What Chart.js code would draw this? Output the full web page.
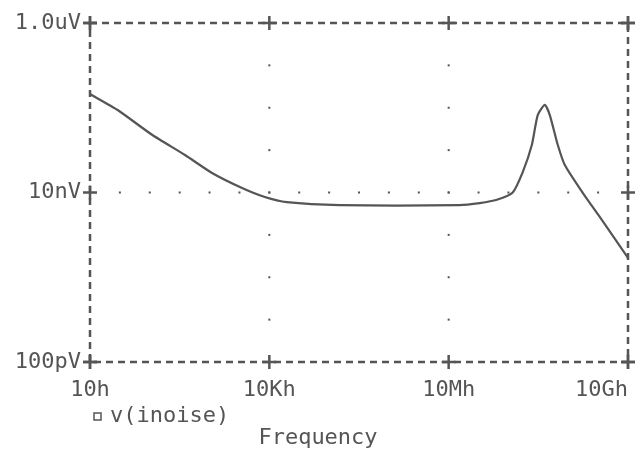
<!DOCTYPE html>
<html>
<head>
<meta charset="utf-8">
<title>v(inoise)</title>
<script src="https://cdn.jsdelivr.net/npm/chart.js@4/dist/chart.umd.min.js"></script>
<style>
  html, body { margin: 0; padding: 0; background: #fff; }
  #wrap { width: 635px; height: 451px; }
</style>
</head>
<body>
<div id="wrap"><canvas id="chart" width="635" height="451"></canvas></div>
<script>
// values (Hz, V/sqrt(Hz))
const freqHz = [10, 29, 109, 388, 1100, 3500, 8400, 19600, 150000, 1.5e7, 3.3e7, 6.4e7,
  1.18e8, 1.74e8, 2.46e8, 3.09e8, 4.06e8, 4.92e8, 6.7e8, 8.77e8, 1.75e9, 3.37e9, 1e10];
const noiseV = [1.45e-7, 9.4e-8, 4.8e-8, 2.77e-8, 1.7e-8, 1.13e-8, 8.85e-9, 7.7e-9, 7.1e-9, 7.1e-9, 7.5e-9, 8.2e-9,
  1.0e-8, 1.75e-8, 3.63e-8, 8.2e-8, 1.08e-7, 8.2e-8, 3.63e-8, 2.11e-8, 9.9e-9, 5.14e-9, 1.69e-9];

const xTicks = [10, 1e4, 1e7, 1e10];
const xLabels = ['10h', '10Kh', '10Mh', '10Gh'];
const yTicks = [1e-10, 1e-8, 1e-6];
const yLabels = ['100pV', '10nV', '1.0uV'];
const seriesLabel = 'v(inoise)';
const axisTitle = 'Frequency';

const ink = '#555555';
const font = { family: 'DejaVu Sans Mono', size: 22 };

const plotterPlugin = {
  id: 'plotter',
  afterDraw(chart) {
    const { ctx, chartArea: a, scales } = chart;
    const xs = scales.x, ys = scales.y;
    ctx.save();
    ctx.strokeStyle = ink;
    ctx.fillStyle = ink;

    // dashed frame
    ctx.lineWidth = 2.5;
    ctx.setLineDash([7, 5]);
    ctx.strokeRect(a.left, a.top, a.right - a.left, a.bottom - a.top);
    ctx.setLineDash([]);

    // dotted interior grid, a dot every half decade
    const xPix = xTicks.map((v) => xs.getPixelForValue(v));
    const yPix = yTicks.map((v) => ys.getPixelForValue(v));
    const halfX = (xPix[1] - xPix[0]) / 6;
    const halfY = (yPix[0] - yPix[1]) / 4;
    yPix.slice(1, -1).forEach((py) => {
      for (let px = a.left + halfX; px < a.right - 2; px += halfX) ctx.fillRect(px - 1, py - 1, 2, 2);
    });
    xPix.slice(1, -1).forEach((px) => {
      for (let py = a.top + halfY; py < a.bottom - 2; py += halfY) ctx.fillRect(px - 1, py - 1, 2, 2);
    });

    // plus marks on the frame
    ctx.lineWidth = 2.5;
    const plus = (px, py) => {
      ctx.beginPath();
      ctx.moveTo(px - 7, py); ctx.lineTo(px + 7, py);
      ctx.moveTo(px, py - 7); ctx.lineTo(px, py + 7);
      ctx.stroke();
    };
    xPix.forEach((px) => { plus(px, a.top); plus(px, a.bottom); });
    yPix.forEach((py) => { plus(a.left, py); plus(a.right, py); });

    // x tick labels (last one kept inside the canvas)
    ctx.font = `${font.size}px ${font.family}`;
    ctx.textBaseline = 'middle';
    xLabels.forEach((t, i) => {
      ctx.textAlign = i === xLabels.length - 1 ? 'right' : 'center';
      ctx.fillText(t, xPix[i], a.bottom + 28);
    });

    // legend entry
    ctx.lineWidth = 1.5;
    ctx.strokeRect(94, 413, 7, 7);
    ctx.textAlign = 'left';
    ctx.fillText(seriesLabel, 110, 416);

    // axis title
    ctx.textAlign = 'center';
    ctx.fillText(axisTitle, 318, 438);
    ctx.restore();
  },
};

new Chart(document.getElementById('chart'), {
  type: 'line',
  data: {
    datasets: [{
      label: seriesLabel,
      data: freqHz.map((f, i) => ({ x: f, y: noiseV[i] })),
      borderColor: ink,
      borderWidth: 2.2,
      pointRadius: 0,
      fill: false,
      tension: 0.2,
    }],
  },
  options: {
    responsive: false,
    animation: false,
    layout: { padding: { top: 23, right: 7, left: 0, bottom: 0 } },
    plugins: { legend: { display: false }, tooltip: { enabled: false } },
    scales: {
      x: {
        type: 'logarithmic',
        min: 10,
        max: 1e10,
        grid: { display: false },
        border: { display: false },
        ticks: { display: false },
        afterFit(scale) { scale.height = 89; },
      },
      y: {
        type: 'logarithmic',
        min: 1e-10,
        max: 1e-6,
        grid: { display: false, drawTicks: false },
        border: { display: false },
        afterBuildTicks(scale) { scale.ticks = yTicks.map((v) => ({ value: v })); },
        afterFit(scale) { scale.width = 90; },
        ticks: {
          color: ink,
          font,
          padding: 9,
          callback: (v) => yLabels[yTicks.indexOf(v)] || '',
        },
      },
    },
  },
  plugins: [plotterPlugin],
});
</script>
</body>
</html>
